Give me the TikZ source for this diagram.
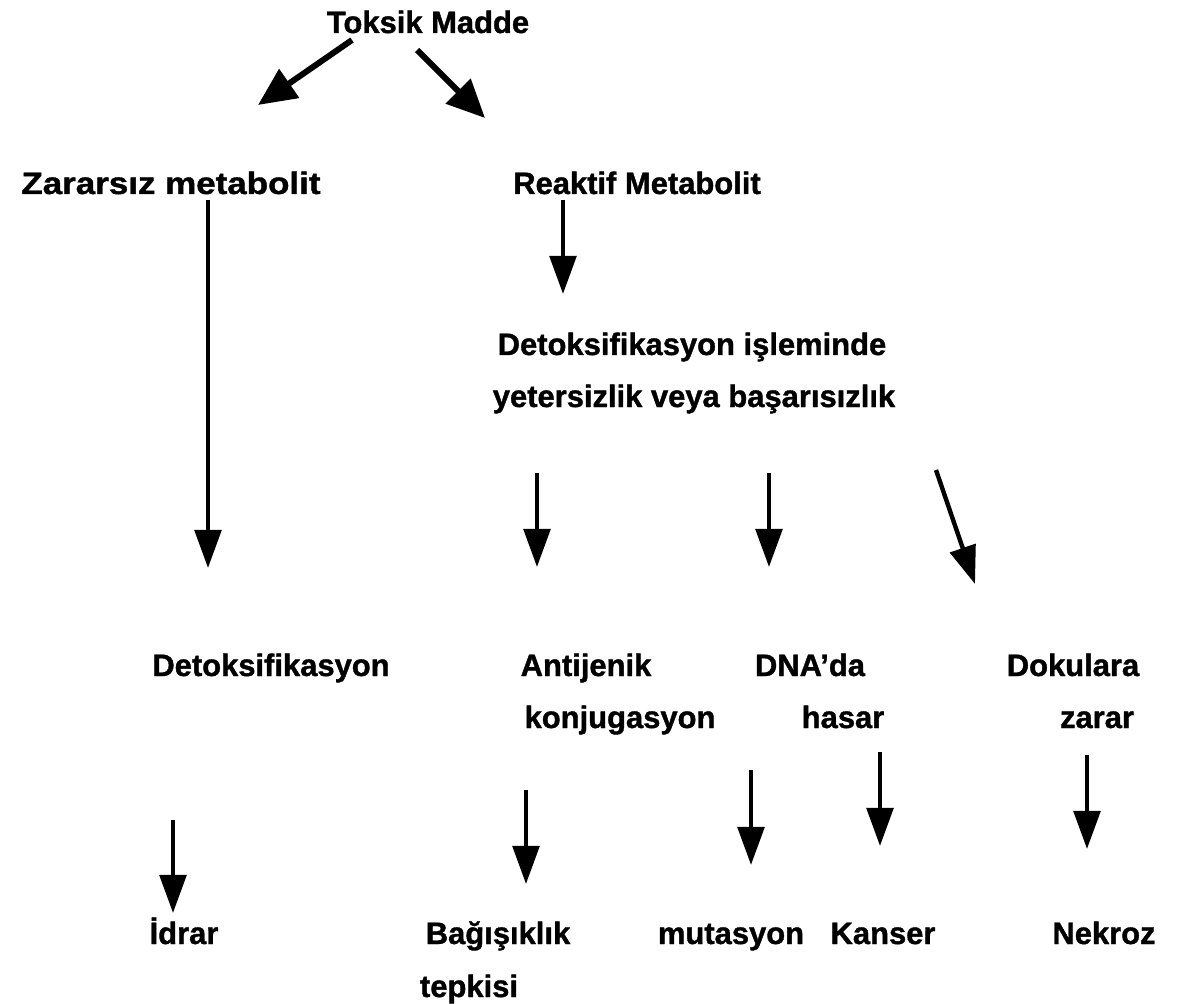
\documentclass[tikz,border=0pt]{standalone}
\usepackage{fontspec}
\setmainfont{Liberation Sans}[BoldFeatures={FakeBold=1.2}]
\usepackage{tikz}
\usetikzlibrary{arrows.meta, calc}

\begin{document}
\begin{tikzpicture}[
        x=0.025cm, y=-0.025cm,
        lbl/.style={anchor=base, inner sep=0pt, font=\bfseries\fontsize{22}{26}\selectfont},
        arrow/.style={-{Triangle[length=0.95cm, width=0.66cm]}, line width=0.11cm},
        toparrow/.style={-{Triangle[length=0.95cm, width=0.85cm]}, line width=0.15cm}
    ]
    \useasboundingbox (0,0) rectangle (1177,1004);

    % --- Top ---
    \node[lbl] (toksik) at (428, 33) {Toksik Madde};

    % --- Row 1 ---
    \node[lbl] (zararsiz) at (171, 194) {\scalebox{1.13}[1]{Zararsız metabolit}};
    \node[lbl] (reaktif) at (637, 194) {Reaktif Metabolit};

    % --- Row 2 ---
    \node[lbl] (detoksA) at (692, 355) {Detoksifikasyon işleminde};
    \node[lbl] (detoksB) at (694, 407) {yetersizlik veya başarısızlık};

    % --- Row 3 ---
    \node[lbl] (detoks) at (271, 676) {Detoksifikasyon};
    \node[lbl] (antijenik) at (586, 676) {Antijenik};
    \node[lbl] (konjug) at (620, 728) {konjugasyon};
    \node[lbl] (dna) at (810, 676) {DNA’da};
    \node[lbl] (hasar) at (843, 728) {hasar};
    \node[lbl] (dokulara) at (1073, 676) {Dokulara};
    \node[lbl] (zarar) at (1097, 728) {zarar};

    % --- Row 4: outcomes ---
    \node[lbl] (idrar) at (184, 944) {İdrar};
    \node[lbl] (bagisik) at (498, 944) {Bağışıklık};
    \node[lbl] (tepki) at (469, 997) {tepkisi};
    \node[lbl] (mutasyon) at (731, 944) {mutasyon};
    \node[lbl] (kanser) at (883, 944) {Kanser};
    \node[lbl] (nekroz) at (1104, 944) {Nekroz};

    % --- Arrow ends ---
    \coordinate (tz) at (352, 40);   \coordinate (tzE) at (258, 105);
    \coordinate (tr) at (417, 50);   \coordinate (trE) at (485, 118);
    \coordinate (zd) at (208, 200);  \coordinate (zdE) at (208, 568);
    \coordinate (rd) at (563, 200);  \coordinate (rdE) at (563, 294);
    \coordinate (da) at (537, 473);  \coordinate (daE) at (537, 567);
    \coordinate (dd) at (769, 473);  \coordinate (ddE) at (769, 567);
    \coordinate (dk) at (936, 470);  \coordinate (dkE) at (975, 584);
    \coordinate (di) at (173, 820);  \coordinate (diE) at (173, 913);
    \coordinate (kb) at (526, 790);  \coordinate (kbE) at (526, 884);
    \coordinate (hm) at (751, 770);  \coordinate (hmE) at (751, 865);
    \coordinate (hk) at (880, 752);  \coordinate (hkE) at (880, 846);
    \coordinate (zn) at (1087, 755); \coordinate (znE) at (1087, 849);

    % --- Arrows ---
    \draw[toparrow] (tz) -- (tzE);
    \draw[toparrow] (tr) -- (trE);
    \draw[arrow] (zd) -- (zdE);
    \draw[arrow] (rd) -- (rdE);
    \draw[arrow] (da) -- (daE);
    \draw[arrow] (dd) -- (ddE);
    \draw[arrow] (dk) -- (dkE);
    \draw[arrow] (di) -- (diE);
    \draw[arrow] (kb) -- (kbE);
    \draw[arrow] (hm) -- (hmE);
    \draw[arrow] (hk) -- (hkE);
    \draw[arrow] (zn) -- (znE);

\end{tikzpicture}
\end{document}
